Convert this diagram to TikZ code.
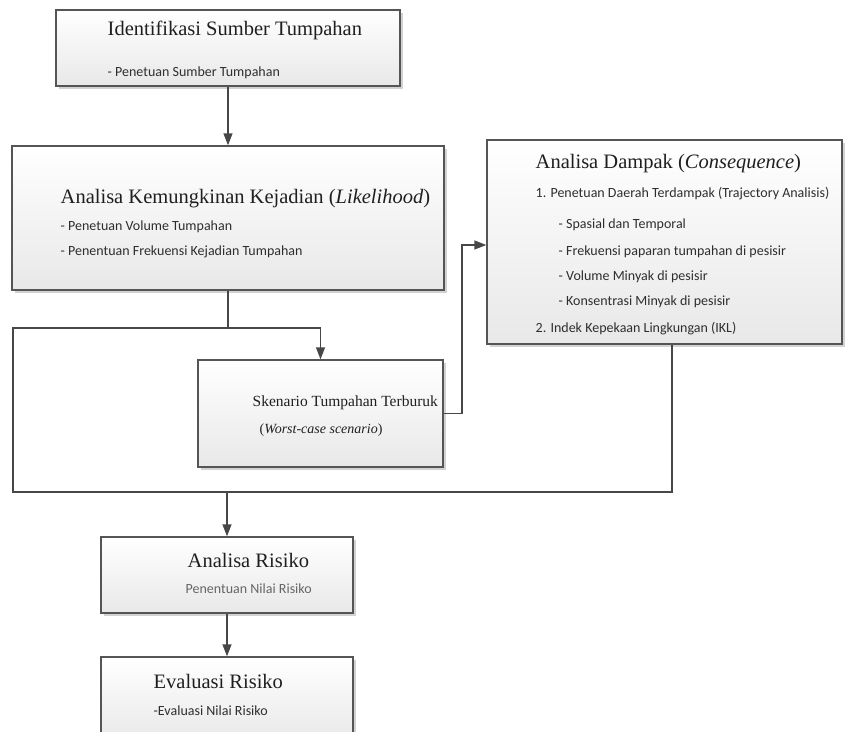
\documentclass[tikz,border=0pt]{standalone}
\usepackage{fontspec}
\setmainfont{Liberation Serif}
\newfontfamily\subfont{Carlito}
\usetikzlibrary{arrows.meta,shadows}
\definecolor{linegray}{HTML}{474747}
\definecolor{boxgray}{HTML}{555555}

\begin{document}
\begin{tikzpicture}[x=1pt, y=-1pt, line width=1.4pt, >={Triangle[length=12pt,width=9pt]},
    box/.style = {draw=boxgray, rectangle, inner sep=0pt, top color=white, bottom color=black!9,
      drop shadow={shadow xshift=2.5pt, shadow yshift=-2.5pt, fill=black!35, opacity=0.5}},
    ttl/.style = {anchor=base west, inner sep=0pt, font=\fontsize{20.5}{24}\selectfont, text=black!88},
    sub/.style = {anchor=base west, inner sep=0pt, font=\subfont\fontsize{14}{16}\selectfont, text=black!82},
    link/.style = {draw=linegray}]
    \useasboundingbox (0,0) rectangle (845,731);
    \clip (0,0) rectangle (845,731);
    % boxes
    \node[box, minimum width=344pt, minimum height=76pt] (b1) at (228,48) {};
    \node[box, minimum width=432pt, minimum height=144pt] (b2) at (228,218) {};
    \node[box, minimum width=245pt, minimum height=107pt] (b3) at (320.5,413.5) {};
    \node[box, minimum width=355pt, minimum height=204pt] (b4) at (664.5,242) {};
    \node[box, minimum width=252pt, minimum height=76pt] (b5) at (227,575) {};
    \node[box, minimum width=252pt, minimum height=86pt] (b6) at (227,700) {};
    % texts
    \node[ttl] (t1) at (107,35) {Identifikasi Sumber Tumpahan};
    \node[sub] (s1) at (107,76) {- Penetuan Sumber Tumpahan};
    \node[ttl] (t2) at (60,203) {Analisa Kemungkinan Kejadian (\textit{Likelihood})};
    \node[sub] (s2a) at (60,230) {- Penetuan Volume Tumpahan};
    \node[sub] (s2b) at (60,255) {- Penentuan Frekuensi Kejadian Tumpahan};
    \node[ttl, font=\fontsize{15.5}{18}\selectfont] (t3) at (252,406) {Skenario Tumpahan Terburuk};
    \node[ttl, font=\fontsize{14}{16}\selectfont] (s3) at (259,433) {(\textit{Worst-case scenario})};
    \node[ttl] (t4) at (535,168) {Analisa Dampak (\textit{Consequence})};
    \node[sub] (s4a) at (535,197) {1. Penetuan Daerah Terdampak (Trajectory Analisis)};
    \node[sub] (s4b) at (558,228) {- Spasial dan Temporal};
    \node[sub] (s4c) at (558,255) {- Frekuensi paparan tumpahan di pesisir};
    \node[sub] (s4d) at (558,280) {- Volume Minyak di pesisir};
    \node[sub] (s4e) at (558,305) {- Konsentrasi Minyak di pesisir};
    \node[sub] (s4f) at (535,332) {2. Indek Kepekaan Lingkungan (IKL)};
    \node[ttl] (t5) at (187,567) {Analisa Risiko};
    \node[sub, text=black!60] (s5) at (185,593) {Penentuan Nilai Risiko};
    \node[ttl] (t6) at (153,688) {Evaluasi Risiko};
    \node[sub] (s6) at (153,715) {-Evaluasi Nilai Risiko};
    % connectors
    \coordinate (j1) at (228,328);
    \coordinate (lt) at (13,328);
    \coordinate (lb) at (13,492);
    \coordinate (rb) at (672,492);
    \coordinate (j3) at (227,492);
    \coordinate (k1) at (462,413.5);
    \draw[link,->] (b1) -- (b2);
    \draw[link] (b2.south) -- (j1);
    \draw[link,->] (j1) -| (b3.north);
    \draw[link] (j1) -- (lt) -- (lb) -- (rb) -- (b4.south -| rb);
    \draw[link,->] (b3.east) -- (k1) |- ([yshift=-3pt]b4.west);
    \draw[link,->] (j3) -- (b5);
    \draw[link,->] (b5) -- (b6);
\end{tikzpicture}
\end{document}
